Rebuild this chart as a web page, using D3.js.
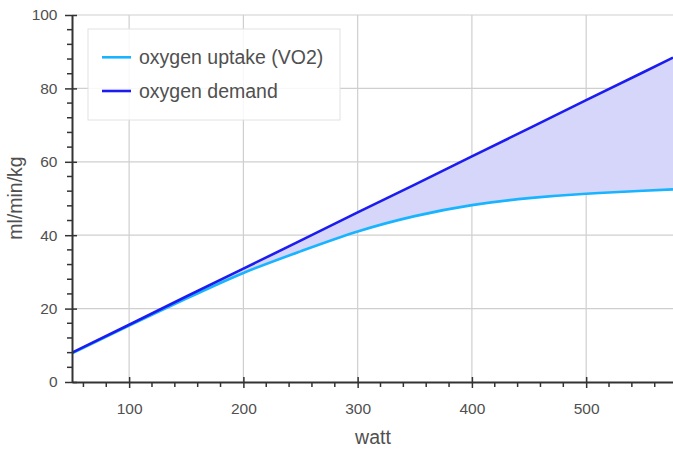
<!doctype html>
<html>
  <head>
    <script src="https://d3js.org/d3.v7.min.js"></script>
    <style>
      body { margin: 0; background: #fff; }
      text { font-family: "Liberation Sans", Arial, sans-serif; fill: #505050; }
    </style>
  </head>
  <body>
    <svg id="chart" width="673" height="449"></svg>
    <script>
      // values
      const watts  = [50, 100, 150, 200, 250, 300, 350, 400, 450, 500, 550, 576];
      const demand = [8.0, 15.6, 23.3, 30.9, 38.5, 46.2, 53.8, 61.5, 69.1, 76.8, 84.4, 88.4];
      const uptake = [7.8, 15.4, 22.7, 29.7, 35.6, 41.0, 45.2, 48.2, 50.1, 51.3, 52.1, 52.5];
      const xTicks = [100, 200, 300, 400, 500];
      const yTicks = [0, 20, 40, 60, 80, 100];
      const seriesNames = ["oxygen uptake (VO2)", "oxygen demand"];

      const rows = watts.map((w, i) => ({ w: w, d: demand[i], u: uptake[i] }));

      const svg = d3.select("#chart");
      const pL = 72, pR = 673, pT = 15, pB = 382;

      const x = d3.scaleLinear().domain([50, 576]).range([pL, pR]);
      const y = d3.scaleLinear().domain([0, 100]).range([pB, pT]);

      svg.append("clipPath").attr("id", "clip")
        .append("rect").attr("x", pL).attr("y", pT - 2)
        .attr("width", pR - pL).attr("height", pB - pT + 2);

      // grid
      const grid = svg.append("g").attr("stroke", "#cfcfcf").attr("stroke-width", 1.2);
      grid.selectAll(".gx").data(xTicks).enter().append("line")
        .attr("x1", d => x(d)).attr("x2", d => x(d))
        .attr("y1", pT).attr("y2", pB);
      grid.selectAll(".gy").data(yTicks.slice(1)).enter().append("line")
        .attr("x1", pL).attr("x2", pR)
        .attr("y1", d => y(d)).attr("y2", d => y(d));

      const plot = svg.append("g").attr("clip-path", "url(#clip)");

      plot.append("path").datum(rows)
        .attr("fill", "#d6d6fa")
        .attr("d", d3.area().curve(d3.curveNatural)
          .x(d => x(d.w)).y0(d => y(d.u)).y1(d => y(d.d)));

      plot.append("path").datum(rows)
        .attr("fill", "none").attr("stroke", "#18b4ff").attr("stroke-width", 2.6)
        .attr("d", d3.line().curve(d3.curveNatural).x(d => x(d.w)).y(d => y(d.u)));

      plot.append("path").datum(rows)
        .attr("fill", "none").attr("stroke", "#1c1cf0").attr("stroke-width", 2.6)
        .attr("d", d3.line().x(d => x(d.w)).y(d => y(d.d)));

      // axes
      const xAxis = svg.append("g").attr("transform", "translate(0," + pB + ")")
        .call(d3.axisBottom(x).tickValues(xTicks).tickSizeInner(6).tickSizeOuter(0).tickPadding(14.5));
      xAxis.selectAll(".tick line").attr("y1", -5);
      xAxis.append("g").selectAll("line")
        .data(d3.range(60, 576, 20).filter(v => v % 100 !== 0)).enter().append("line")
        .attr("x1", d => x(d)).attr("x2", d => x(d)).attr("y1", 0).attr("y2", 5)
        .attr("stroke", "#333").attr("stroke-width", 1.5);

      const yAxis = svg.append("g").attr("transform", "translate(" + pL + ",0)")
        .call(d3.axisLeft(y).tickValues(yTicks).tickSizeInner(7).tickSizeOuter(0).tickPadding(7.5));
      yAxis.selectAll(".tick line").attr("x1", 5);
      yAxis.append("g").selectAll("line")
        .data(d3.range(4, 100, 4).filter(v => v % 20 !== 0)).enter().append("line")
        .attr("x1", -5).attr("x2", 0).attr("y1", d => y(d)).attr("y2", d => y(d))
        .attr("stroke", "#333").attr("stroke-width", 1.5);

      svg.selectAll(".domain").attr("stroke", "#333").attr("stroke-width", 2);
      svg.selectAll(".tick line").attr("stroke", "#333").attr("stroke-width", 1.5);
      svg.selectAll(".tick text").attr("font-size", 15.5).attr("fill", "#505050")
        .attr("font-family", "Liberation Sans, Arial, sans-serif");

      svg.append("text").attr("x", 373).attr("y", 444).attr("text-anchor", "middle")
        .attr("font-size", 19.5).text("watt");
      svg.append("text").attr("transform", "translate(22,198) rotate(-90)")
        .attr("text-anchor", "middle").attr("font-size", 19.5).text("ml/min/kg");

      // legend
      const lg = svg.append("g");
      lg.append("rect").attr("x", 88).attr("y", 29).attr("width", 252).attr("height", 91)
        .attr("fill", "#fff").attr("fill-opacity", 0.85).attr("stroke", "#e2e2e2");
      const legendColors = ["#18b4ff", "#1c1cf0"];
      seriesNames.forEach((name, i) => {
        const ly = 57.3 + i * 33.7;
        lg.append("line").attr("x1", 102).attr("x2", 131).attr("y1", ly).attr("y2", ly)
          .attr("stroke", legendColors[i]).attr("stroke-width", 2.6);
        lg.append("text").attr("x", 139).attr("y", ly + 7).attr("font-size", 19.5).text(name);
      });
    </script>
  </body>
</html>
